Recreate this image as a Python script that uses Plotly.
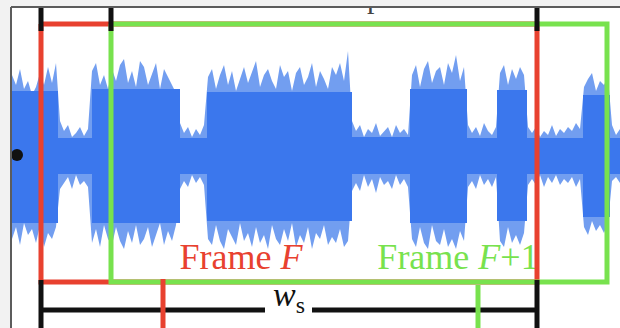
import plotly.graph_objects as go

# ---------------- data ----------------
# waveform envelope (sampled every 4 time units starting at t=12)
WAVE_START = 12
WAVE_STEP = 4
wave_top = [80, 70, 86, 66, 74, 60, 68, 82, 70, 88, 72, 92,
            34,
            24, 30, 18, 22, 28, 19, 26,
            84, 92, 70, 80, 66, 86, 74, 90, 96, 72, 84, 68, 94, 88, 70, 82, 92, 66, 86, 78, 70, 62,
            32,
            22, 28, 18, 26, 20, 30,
            78, 86, 66, 80, 90, 70, 84, 64, 76, 88, 72, 82, 94, 68, 80, 86, 74, 66, 90, 78, 84, 64,
            82, 88, 70, 78, 92, 68, 84, 76, 66, 88, 80, 92, 74, 104,
            34,
            24, 30, 18, 26, 22, 32, 19, 24, 28, 18, 30, 22, 26, 20,
            80, 90, 68, 86, 94, 72, 84, 88, 70, 92, 82, 100, 74, 88,
            30,
            22, 28, 19, 32, 24, 20, 28,
            82, 90, 70, 86, 76, 88, 80,
            28,
            22, 28, 18, 24, 20, 30, 19, 26, 22, 28, 24, 32, 26,
            68, 76, 82, 64, 74, 70, 78,
            30, 20, 26]
wave_bot = [84, 72, 90, 68, 80, 74, 88, 70, 92, 78, 84, 72,
            34,
            28, 22, 34, 20, 30, 26, 32,
            88, 74, 92, 70, 84, 90, 72, 86, 94, 76, 88, 70, 90, 84, 72, 92, 80, 68, 90, 76, 86, 70,
            34,
            26, 32, 20, 28, 22, 30,
            84, 90, 70, 86, 94, 74, 82, 90, 68, 86, 78, 92, 72, 88, 80, 94, 70, 84, 90, 74, 86, 68,
            92, 80, 88, 72, 94, 78, 84, 70, 90, 82, 88, 74, 92, 86,
            36,
            28, 36, 20, 32, 24, 38, 22, 30, 26, 34, 20, 30, 24, 32,
            84, 92, 72, 88, 94, 70, 86, 90, 74, 92, 84, 94, 76, 86,
            32,
            26, 34, 20, 30, 24, 32, 22,
            86, 92, 72, 88, 80, 90, 78,
            30,
            24, 30, 20, 32, 22, 28, 20, 30, 24, 28, 22, 32, 24,
            72, 80, 66, 76, 70, 78, 68,
            26, 22, 28]

# dense core of the signal (segment boundaries and amplitudes)
core_bounds = [12, 58, 92, 180, 207, 352, 410, 467, 497, 527, 583, 610, 620]
core_top = [64, 17, 66, 17, 63, 18, 66, 17, 65, 17, 60, 17]
core_bot = [68, 19, 68, 19, 66, 19, 68, 19, 66, 19, 62, 19]

# analysis frames
frame_starts = [41, 111]
frame_len = 496
frame_names = ["Frame <i>F</i>", "Frame <i>F</i>+1"]
marker_times = [163, 478]
window_label = "<i>w</i><sub>s</sub>"
overlap_label = "overlap"
hop_label = "<i>δ</i>"

# ---------------- style / layout constants ----------------
RED = "#e8412f"
GREEN = "#78e24e"
frame_colors = [RED, GREEN]
BLUE = "#3b77ed"
BLUE_LIGHT = "#729ef0"
BLACK = "#111111"
SERIF = "Liberation Serif"

X_RANGE = [0, 620]
Y_RANGE = [-173, 155]
FRAME_TOP = 131
FRAME_BOT = -127
LABEL_Y = -104.5
LABEL_X = [241, 458]
WS_Y = -155
WS_LABEL_Y = -142
LW = 5

fig = go.Figure()


def seg(x, y, color, width=LW):
    fig.add_trace(go.Scatter(x=x, y=y, mode="lines", line=dict(color=color, width=width),
                             hoverinfo="skip", showlegend=False))


# waveform: outer spiky envelope
wave_x = [WAVE_START + WAVE_STEP * i for i in range(len(wave_top))]
fig.add_trace(go.Scatter(
    x=wave_x + wave_x[::-1],
    y=wave_top + [-b for b in wave_bot[::-1]],
    fill="toself", fillcolor=BLUE_LIGHT, mode="lines", line=dict(width=0),
    hoverinfo="skip", showlegend=False))

# waveform: dense core
cx, cyt, cyb = [], [], []
for i in range(len(core_top)):
    cx += [core_bounds[i], core_bounds[i + 1]]
    cyt += [core_top[i], core_top[i]]
    cyb += [-core_bot[i], -core_bot[i]]
fig.add_trace(go.Scatter(
    x=cx + cx[::-1], y=cyt + cyb[::-1],
    fill="toself", fillcolor=BLUE, mode="lines", line=dict(width=0),
    hoverinfo="skip", showlegend=False))

# frame labels
for name, lx, col in zip(frame_names, LABEL_X, frame_colors):
    fig.add_trace(go.Scatter(x=[lx], y=[LABEL_Y], mode="text", text=[name],
                             textposition="middle center",
                             textfont=dict(family=SERIF, size=36, color=col),
                             hoverinfo="skip", showlegend=False, cliponaxis=False))

# frame rectangles
for s, col in zip(frame_starts, frame_colors):
    e = s + frame_len
    seg([s, e, e, s, s], [FRAME_TOP, FRAME_TOP, FRAME_BOT, FRAME_BOT, FRAME_TOP], col)

# black ticks at top (hop / overlap dimensions)
top_ticks = [frame_starts[0], frame_starts[1], frame_starts[0] + frame_len]
tx, ty = [], []
for t in top_ticks:
    tx += [t, t, None]
    ty += [Y_RANGE[1], 124, None]
seg(tx, ty, BLACK)

# window size dimension at bottom
w0 = frame_starts[0]
w1 = frame_starts[0] + frame_len
wm = (w0 + w1) / 2
seg([w0, w0, None, w1, w1], [-125, Y_RANGE[0], None, -125, Y_RANGE[0]], BLACK)
seg([w0, wm - 24, None, wm + 23, w1], [WS_Y, WS_Y, None, WS_Y, WS_Y], BLACK)
fig.add_trace(go.Scatter(x=[wm], y=[WS_LABEL_Y], mode="text", text=[window_label],
                         textposition="middle center",
                         textfont=dict(family=SERIF, size=34, color=BLACK),
                         hoverinfo="skip", showlegend=False, cliponaxis=False))

# lower markers
seg([marker_times[0], marker_times[0]], [-124, Y_RANGE[0]], RED)
seg([marker_times[1], marker_times[1]], [-130, Y_RANGE[0]], GREEN)

# black dot at the left edge
fig.add_trace(go.Scatter(x=[17], y=[0], mode="markers",
                         marker=dict(color=BLACK, size=12),
                         hoverinfo="skip", showlegend=False, cliponaxis=False))

# top labels (mostly cut by the crop)
fig.add_trace(go.Scatter(x=[337, 77], y=[154.3, 154.8], mode="text",
                         text=[overlap_label, hop_label], textposition="middle center",
                         textfont=dict(family=SERIF, size=30, color="#444444"),
                         hoverinfo="skip", showlegend=False, cliponaxis=False))

# crop margins (grey) and border, drawn above the data
fig.add_shape(type="rect", xref="x", yref="y", x0=0, x1=620, y0=148, y1=155,
              fillcolor="#f2f2f2", line=dict(width=0), layer="above")
fig.add_shape(type="rect", xref="x", yref="y", x0=0, x1=10, y0=-173, y1=155,
              fillcolor="#f2f2f2", line=dict(width=0), layer="above")
fig.add_shape(type="line", xref="x", yref="y", x0=11, x1=11, y0=-173, y1=148,
              line=dict(color="#5c5c5c", width=2), layer="above")
fig.add_shape(type="line", xref="x", yref="y", x0=11, x1=620, y0=148, y1=148,
              line=dict(color="#5c5c5c", width=2), layer="above")

fig.update_layout(
    width=620, height=328, autosize=False,
    margin=dict(l=0, r=0, t=0, b=0, pad=0),
    paper_bgcolor="white", plot_bgcolor="white",
    xaxis=dict(range=X_RANGE, visible=False, fixedrange=True),
    yaxis=dict(range=Y_RANGE, visible=False, fixedrange=True),
    showlegend=False,
)

fig.write_html("out.html",
               config={"displayModeBar": False, "staticPlot": True},
               post_script="document.body.style.margin='0';document.body.style.padding='0';")
